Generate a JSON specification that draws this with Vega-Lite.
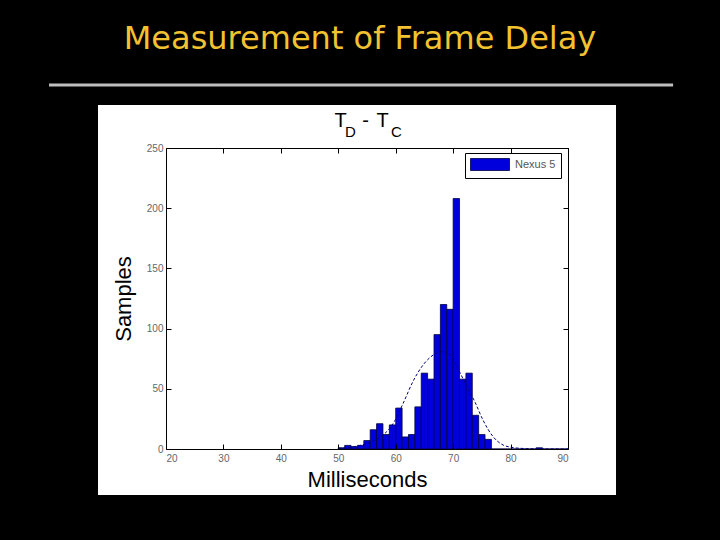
{
  "$schema": "https://vega.github.io/schema/vega-lite/v6.json",
  "width": 402,
  "height": 301,
  "autosize": {"type": "none"},
  "padding": {"left": 166, "top": 148, "right": 152, "bottom": 91},
  "background": "#000000",
  "config": {
    "view": {"stroke": null},
    "axis": {"grid": false, "zindex": 1, "domainColor": "#000000", "tickColor": "#000000", "domainWidth": 1, "tickWidth": 1}
  },
  "datasets": {
    "bins": [
      {"start": 50.000, "end": 51.111, "count": 1, "series": "Nexus 5"},
      {"start": 51.111, "end": 52.222, "count": 3, "series": "Nexus 5"},
      {"start": 52.222, "end": 53.333, "count": 2, "series": "Nexus 5"},
      {"start": 53.333, "end": 54.444, "count": 3, "series": "Nexus 5"},
      {"start": 54.444, "end": 55.556, "count": 7, "series": "Nexus 5"},
      {"start": 55.556, "end": 56.667, "count": 16, "series": "Nexus 5"},
      {"start": 56.667, "end": 57.778, "count": 21, "series": "Nexus 5"},
      {"start": 57.778, "end": 58.889, "count": 12, "series": "Nexus 5"},
      {"start": 58.889, "end": 60.000, "count": 20, "series": "Nexus 5"},
      {"start": 60.000, "end": 61.111, "count": 34, "series": "Nexus 5"},
      {"start": 61.111, "end": 62.222, "count": 10, "series": "Nexus 5"},
      {"start": 62.222, "end": 63.333, "count": 12, "series": "Nexus 5"},
      {"start": 63.333, "end": 64.444, "count": 35, "series": "Nexus 5"},
      {"start": 64.444, "end": 65.556, "count": 63, "series": "Nexus 5"},
      {"start": 65.556, "end": 66.667, "count": 58, "series": "Nexus 5"},
      {"start": 66.667, "end": 67.778, "count": 95, "series": "Nexus 5"},
      {"start": 67.778, "end": 68.889, "count": 120, "series": "Nexus 5"},
      {"start": 68.889, "end": 70.000, "count": 116, "series": "Nexus 5"},
      {"start": 70.000, "end": 71.111, "count": 208, "series": "Nexus 5"},
      {"start": 71.111, "end": 72.222, "count": 58, "series": "Nexus 5"},
      {"start": 72.222, "end": 73.333, "count": 63, "series": "Nexus 5"},
      {"start": 73.333, "end": 74.444, "count": 28, "series": "Nexus 5"},
      {"start": 74.444, "end": 75.556, "count": 12, "series": "Nexus 5"},
      {"start": 75.556, "end": 76.667, "count": 8, "series": "Nexus 5"},
      {"start": 76.667, "end": 77.778, "count": 0, "series": "Nexus 5"},
      {"start": 77.778, "end": 78.889, "count": 0, "series": "Nexus 5"},
      {"start": 78.889, "end": 80.000, "count": 0, "series": "Nexus 5"},
      {"start": 80.000, "end": 81.111, "count": 0, "series": "Nexus 5"},
      {"start": 81.111, "end": 82.222, "count": 0, "series": "Nexus 5"},
      {"start": 82.222, "end": 83.333, "count": 0, "series": "Nexus 5"},
      {"start": 83.333, "end": 84.444, "count": 0, "series": "Nexus 5"},
      {"start": 84.444, "end": 85.556, "count": 1, "series": "Nexus 5"},
      {"start": 85.556, "end": 86.667, "count": 0, "series": "Nexus 5"},
      {"start": 86.667, "end": 87.778, "count": 0, "series": "Nexus 5"},
      {"start": 87.778, "end": 88.889, "count": 0, "series": "Nexus 5"},
      {"start": 88.889, "end": 90.000, "count": 0, "series": "Nexus 5"}
    ],
    "fit": [
      {"ms": 50, "n": 0.6}, {"ms": 52, "n": 1.4}, {"ms": 54, "n": 3.2},
      {"ms": 56, "n": 6.5}, {"ms": 57.8, "n": 11.6}, {"ms": 59, "n": 17.5},
      {"ms": 59.9, "n": 24}, {"ms": 61.3, "n": 38}, {"ms": 63.1, "n": 57},
      {"ms": 64.8, "n": 70}, {"ms": 66.5, "n": 78}, {"ms": 68, "n": 81},
      {"ms": 69.5, "n": 78}, {"ms": 70.9, "n": 66}, {"ms": 72.4, "n": 52},
      {"ms": 73.8, "n": 39}, {"ms": 75.2, "n": 24}, {"ms": 77, "n": 10},
      {"ms": 78.7, "n": 3.3}, {"ms": 80, "n": 1.5}, {"ms": 82, "n": 0.5},
      {"ms": 84, "n": 0.15}, {"ms": 86, "n": 0.05}, {"ms": 90, "n": 0}
    ],
    "one": [{"item": "annotation"}]
  },
  "layer": [
    {
      "data": {"name": "one"},
      "mark": {"type": "rect", "fill": "#FFFFFF"},
      "encoding": {
        "x": {"datum": 8.16, "type": "quantitative", "axis": null, "scale": {"domain": [20, 90], "nice": false}},
        "x2": {"datum": 98.36},
        "y": {"datum": -38.2, "type": "quantitative", "axis": null, "scale": {"domain": [0, 250], "nice": false}},
        "y2": {"datum": 285.7}
      }
    },
    {
      "data": {"name": "one"},
      "mark": {"type": "rule", "stroke": "#BEBEBE", "strokeWidth": 3},
      "encoding": {
        "x": {"datum": -0.37, "type": "quantitative", "axis": null},
        "x2": {"datum": 108.3},
        "y": {"datum": 302.3, "type": "quantitative", "axis": null}
      }
    },
    {
      "data": {"name": "one"},
      "mark": {"type": "text", "text": "Measurement of Frame Delay", "font": "DejaVu Sans", "fontSize": 32, "color": "#F2C230", "align": "center", "baseline": "alphabetic"},
      "encoding": {
        "x": {"datum": 53.78, "type": "quantitative", "axis": null},
        "y": {"datum": 332.2, "type": "quantitative", "axis": null}
      }
    },
    {
      "data": {"name": "bins"},
      "mark": {"type": "rect", "stroke": "#000040", "strokeWidth": 0.8},
      "encoding": {
        "x": {
          "field": "start", "type": "quantitative",
          "scale": {"domain": [20, 90], "nice": false},
          "axis": {
            "orient": "bottom", "values": [20, 30, 40, 50, 60, 70, 80, 90], "zindex": 1,
            "tickSize": -5, "labelPadding": 9,
            "labelColor": "#666666", "labelFont": "Liberation Sans", "labelFontSize": 10,
            "title": "Milliseconds", "titleFont": "Liberation Sans", "titleFontSize": 22,
            "titleFontWeight": "normal", "titleColor": "#000000", "titlePadding": 6
          }
        },
        "x2": {"field": "end"},
        "y": {
          "field": "count", "type": "quantitative",
          "scale": {"domain": [0, 250], "nice": false},
          "axis": {
            "orient": "left", "values": [0, 50, 100, 150, 200, 250], "zindex": 1,
            "tickSize": -5, "labelPadding": 8,
            "labelColor": "#666666", "labelFont": "Liberation Sans", "labelFontSize": 10,
            "title": "Samples", "titleFont": "Liberation Sans", "titleFontSize": 22,
            "titleFontWeight": "normal", "titleColor": "#000000", "titlePadding": 11
          }
        },
        "y2": {"datum": 0},
        "color": {
          "field": "series", "type": "nominal",
          "scale": {"range": ["#0000DD"]},
          "legend": {
            "title": null, "orient": "none", "legendX": 299, "legendY": 5,
            "symbolType": "M-1,-1H5.5V1H-1Z", "symbolSize": 144,
            "symbolStrokeColor": "#000040", "symbolStrokeWidth": 0.8, "symbolOpacity": 1,
            "labelFont": "Liberation Sans", "labelFontSize": 11, "labelColor": "#555555",
            "labelOffset": 32, "strokeColor": "#000000", "fillColor": "#FFFFFF", "padding": 5
          }
        }
      }
    },
    {
      "data": {"name": "fit"},
      "mark": {"type": "line", "stroke": "#000080", "strokeWidth": 1, "strokeDash": [3, 2], "interpolate": "monotone"},
      "encoding": {
        "x": {
          "field": "ms", "type": "quantitative",
          "axis": {"orient": "top", "values": [20, 30, 40, 50, 60, 70, 80, 90], "zindex": 1, "tickSize": -5, "labels": false, "title": null}
        },
        "y": {
          "field": "n", "type": "quantitative",
          "axis": {"orient": "right", "values": [0, 50, 100, 150, 200, 250], "zindex": 1, "tickSize": -5, "labels": false, "title": null}
        }
      }
    },
    {
      "data": {"name": "one"},
      "mark": {"type": "text", "text": "T", "font": "Liberation Sans", "fontSize": 20, "color": "#000000", "align": "center", "baseline": "alphabetic"},
      "encoding": {
        "x": {"datum": 50.42, "type": "quantitative", "axis": null},
        "y": {"datum": 267.2, "type": "quantitative", "axis": null}
      }
    },
    {
      "data": {"name": "one"},
      "mark": {"type": "text", "text": "D", "font": "Liberation Sans", "fontSize": 15, "color": "#000000", "align": "center", "baseline": "alphabetic"},
      "encoding": {
        "x": {"datum": 52.1, "type": "quantitative", "axis": null},
        "y": {"datum": 259.4, "type": "quantitative", "axis": null}
      }
    },
    {
      "data": {"name": "one"},
      "mark": {"type": "text", "text": "-", "font": "Liberation Sans", "fontSize": 20, "color": "#000000", "align": "center", "baseline": "alphabetic"},
      "encoding": {
        "x": {"datum": 54.74, "type": "quantitative", "axis": null},
        "y": {"datum": 267.2, "type": "quantitative", "axis": null}
      }
    },
    {
      "data": {"name": "one"},
      "mark": {"type": "text", "text": "T", "font": "Liberation Sans", "fontSize": 20, "color": "#000000", "align": "center", "baseline": "alphabetic"},
      "encoding": {
        "x": {"datum": 57.7, "type": "quantitative", "axis": null},
        "y": {"datum": 267.2, "type": "quantitative", "axis": null}
      }
    },
    {
      "data": {"name": "one"},
      "mark": {"type": "text", "text": "C", "font": "Liberation Sans", "fontSize": 15, "color": "#000000", "align": "center", "baseline": "alphabetic"},
      "encoding": {
        "x": {"datum": 60.14, "type": "quantitative", "axis": null},
        "y": {"datum": 258.9, "type": "quantitative", "axis": null}
      }
    }
  ],
  "resolve": {"axis": {"x": "independent", "y": "independent"}}
}
